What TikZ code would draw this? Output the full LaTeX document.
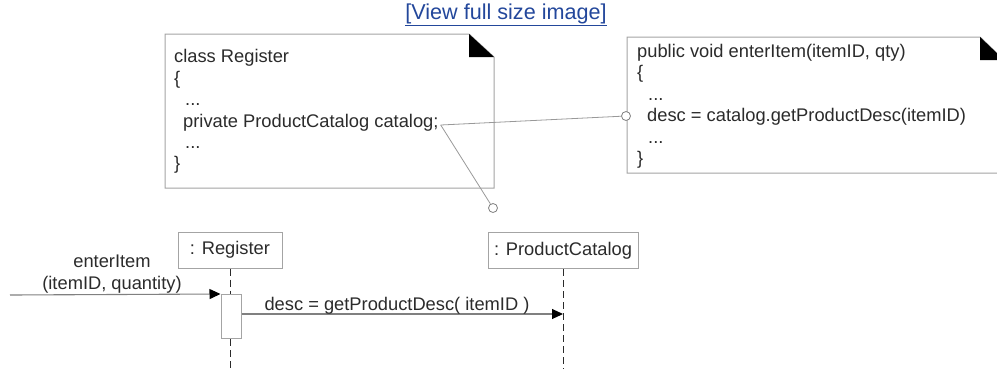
\documentclass[tikz,border=0pt]{standalone}
\usepackage{fontspec}
\setmainfont{Liberation Sans}
\usetikzlibrary{arrows.meta,calc}
\definecolor{linkblue}{HTML}{23479B}
\definecolor{ink}{HTML}{2B2B2B}
\definecolor{frame}{HTML}{A4A4A4}

\begin{document}
\begin{tikzpicture}[x=1pt,y=-1pt,
  code/.style={anchor=base west,inner sep=0pt,text=ink,font=\fontsize{18.3}{21}\selectfont},
  lbl/.style={inner sep=0pt,text=ink,font=\fontsize{18.3}{22}\selectfont},
  obj/.style={draw=frame,line width=1pt,fill=white,minimum width=#1,minimum height=36,inner sep=0pt,text=ink,font=\fontsize{18.3}{21}\selectfont},
  notebox/.style={draw=frame,line width=1pt,fill=white},
  pin/.style={circle,draw=gray,fill=white,inner sep=0pt,minimum size=9pt,line width=0.8pt},
  conn/.style={draw=gray!80,line width=0.8pt},
  msg/.style={draw=gray,line width=1.1pt,-{Triangle[length=11pt,width=10pt,color=black]}},
  life/.style={draw=ink,line width=1pt,dash pattern=on 7pt off 4pt}]
  \useasboundingbox (0,0) rectangle (997,368);
  \clip (0,0) rectangle (997,368);
  \node[inner sep=0pt,text=linkblue,font=\fontsize{21.6}{24}\selectfont] (link) at (506,15) {\underline{[View full size image]}};

  % notiz zur klasse Register
  \draw[notebox] (165,34) -- (469,34) -- (494,57) -- (494,188) -- (165,188) -- cycle;
  \fill[black] (469,34) -- (469,57) -- (494,57) -- cycle;
  \node[code] (r1) at (174,62) {class Register};
  \node[code] (r2) at (174,84) {\{};
  \node[code] (r3) at (185,105) {...};
  \node[code] (cat) at (183,127) {private ProductCatalog catalog;};
  \node[code] (r5) at (185,148) {...};
  \node[code] (r6) at (174,169) {\}};

  % notiz zur methode enterItem
  \draw[notebox] (627,37) -- (980,37) -- (1004,60) -- (1004,173) -- (627,173) -- cycle;
  \fill[black] (980,37) -- (980,60) -- (1004,60) -- cycle;
  \node[code] (e1) at (637,57) {public void enterItem(itemID, qty)};
  \node[code] (e2) at (637,78.5) {\{};
  \node[code] (e3) at (648,100) {...};
  \node[code] (call) at (647,121.5) {desc = catalog.getProductDesc(itemID)};
  \node[code] (e5) at (648,143) {...};
  \node[code] (e6) at (637,164.5) {\}};

  % verbindungen der notizen
  \node[pin] (p1) at (626,116) {};
  \node[pin] (p2) at (493,208) {};
  \coordinate (catend) at ($(cat.base east)+(2,-2)$);
  \foreach \b in {p1,p2}
    \draw[conn] (catend) -- (\b);

  % sequenzdiagramm
  \coordinate (bot) at (0,372);
  \node[obj=104] (reg) at (230,250) {: Register};
  \node[obj=150] (pc) at (563,250.5) {: ProductCatalog};
  \node[draw=frame,line width=1pt,fill=white,minimum width=20,minimum height=44,inner sep=0pt,anchor=north] (act) at (231,294) {};
  \draw[life] (reg.south) -- (act.north -| reg.south);
  \draw[life] (act.south -| reg.south) -- (reg.south |- bot);
  \draw[life] (pc.south) -- (pc.south |- bot);
  \coordinate (src) at (10,295);
  \draw[msg] (src) -- (act.north west);
  \node[lbl,align=center] (m1) at (112,274) {enterItem\\(itemID, quantity)};
  \coordinate (m2s) at ($(act.north east)+(0,20)$);
  \draw[msg] (m2s) -- (m2s -| pc.south);
  \node[lbl,anchor=base] (m2) at (397,310) {desc = getProductDesc( itemID )};
\end{tikzpicture}
\end{document}
